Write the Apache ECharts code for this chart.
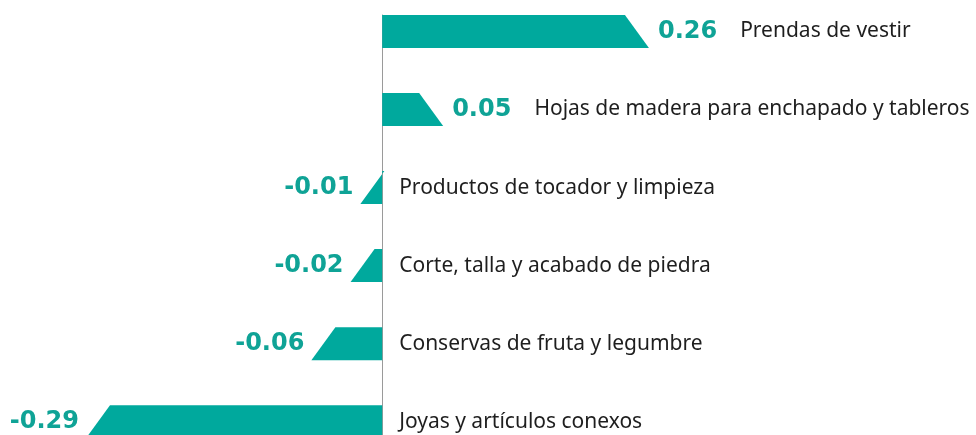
<!DOCTYPE html>
<html>
<head>
<meta charset="utf-8">
<script src="https://cdn.jsdelivr.net/npm/echarts@6/dist/echarts.min.js"></script>
<style>
  html, body { margin: 0; padding: 0; background: #fff; }
  #chart { width: 976px; height: 435px; }
</style>
</head>
<body>
<div id="chart"></div>
<script>
// categorias y valores
const categories = [
  'Prendas de vestir',
  'Hojas de madera para enchapado y tableros',
  'Productos de tocador y limpieza',
  'Corte, talla y acabado de piedra',
  'Conservas de fruta y legumbre',
  'Joyas y artículos conexos'
]
const values = [0.26, 0.05, -0.01, -0.02, -0.06, -0.29]

const barColor = '#00a99d'
const labelColor = '#0fa396'
const nameColor = '#1e1e1e'
const nameFont = '"Noto Sans", "Open Sans", sans-serif'
const valueFont = '"DejaVu Sans", sans-serif'

const chart = echarts.init(document.getElementById('chart'))

const data = values.map((v, i) => [i, v])

const renderItem = (params, api) => {
  const idx = api.value(0)
  const v = api.value(1)
  const zero = api.coord([0, idx])
  const end = api.coord([v, idx])
  const h = 33
  const s = 12 // mitad del corte diagonal
  const top = zero[1] - h / 2
  const bottom = zero[1] + h / 2
  const cy = zero[1]
  let points, texts
  const valueText = v.toFixed(2)

  if (v >= 0) {
    points = [[zero[0], top], [end[0] - s, top], [end[0] + s, bottom], [zero[0], bottom]]
    texts = [{
      type: 'text',
      style: {
        text: '{v|' + valueText + '}{n|' + categories[idx] + '}',
        x: end[0] + s + 9,
        y: cy,
        align: 'left',
        verticalAlign: 'middle',
        rich: {
          v: { fill: labelColor, fontSize: 24, fontWeight: 'bold', fontFamily: valueFont },
          n: { fill: nameColor, fontSize: 21, fontFamily: nameFont, padding: [0, 0, 0, 23] }
        }
      }
    }]
  } else {
    points = [[zero[0], top], [end[0] + s, top], [end[0] - s, bottom], [zero[0], bottom]]
    texts = [{
      type: 'text',
      style: {
        text: valueText,
        x: end[0] - s - 7,
        y: cy,
        align: 'right',
        verticalAlign: 'middle',
        fill: labelColor,
        font: 'bold 24px ' + valueFont
      }
    }, {
      type: 'text',
      style: {
        text: categories[idx],
        x: zero[0] + 17,
        y: cy,
        align: 'left',
        verticalAlign: 'middle',
        fill: nameColor,
        font: '21px ' + nameFont
      }
    }]
  }

  return {
    type: 'group',
    children: [{
      type: 'polygon',
      shape: { points: points },
      style: { fill: barColor }
    }].concat(texts)
  }
}

const option = {
  animation: false,
  // el grid sale del lienzo por abajo, la ultima barra queda cortada
  grid: { left: 0, top: 15, width: 976, height: 427, outerBoundsMode: 'none' },
  xAxis: {
    type: 'value',
    min: -0.39,
    max: 0.606,
    axisLine: { show: false },
    axisTick: { show: false },
    axisLabel: { show: false },
    splitLine: { show: false }
  },
  yAxis: {
    type: 'value',
    inverse: true,
    min: -0.21,
    max: 5.26,
    axisLine: { show: true, onZero: true, lineStyle: { color: '#9a9a9a', width: 1 } },
    axisTick: { show: false },
    axisLabel: { show: false },
    splitLine: { show: false }
  },
  series: [{
    type: 'custom',
    renderItem: renderItem,
    encode: { x: 1, y: 0 },
    clip: false,
    z: 1,
    data: data
  }]
}

chart.setOption(option)
</script>
</body>
</html>
